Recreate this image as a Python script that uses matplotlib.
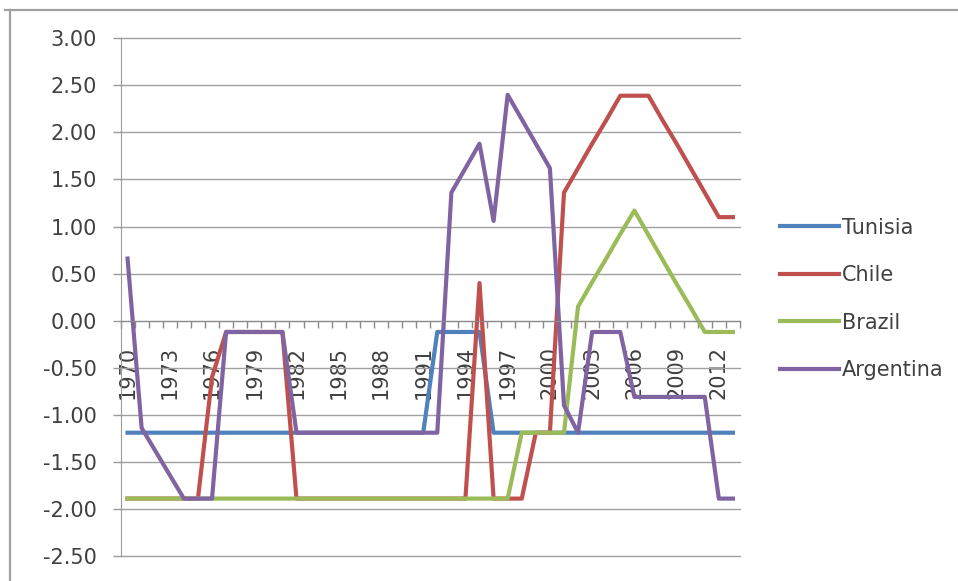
import matplotlib
matplotlib.use("Agg")
import matplotlib.pyplot as plt
from matplotlib.lines import Line2D
import numpy as np

years = list(range(1970, 2014))

tunisia = [-1.19] * 22 + [-0.12] * 4 + [-1.19] * 18

chile = ([-1.89] * 6 + [-0.60] + [-0.12] * 5 + [-1.89] * 13 + [0.40]
         + [-1.89] * 3 + [-1.19, -1.19, 1.36, 1.62, 1.88, 2.13, 2.39, 2.39, 2.39,
                          2.13, 1.88, 1.62, 1.36, 1.10, 1.10])

brazil = ([-1.89] * 28 + [-1.19] * 4
          + [0.15, 0.41, 0.66, 0.92, 1.17, 0.91, 0.65, 0.39, 0.14, -0.12, -0.12, -0.12])

argentina = ([0.66, -1.14, -1.39, -1.64, -1.89, -1.89, -1.89]
             + [-0.12] * 5 + [-1.19] * 11
             + [1.36, 1.62, 1.88, 1.06, 2.40, 2.14, 1.88, 1.62, -0.90, -1.19,
                -0.12, -0.12, -0.12, -0.81, -0.81, -0.81, -0.81, -0.81, -0.81,
                -1.89, -1.89])

series = [("Tunisia", tunisia, "#4F81BD"),
          ("Chile", chile, "#C0504D"),
          ("Brazil", brazil, "#9BBB59"),
          ("Argentina", argentina, "#8064A2")]

y_ticks = [3.0, 2.5, 2.0, 1.5, 1.0, 0.5, 0.0, -0.5, -1.0, -1.5, -2.0, -2.5]
label_years = years[::3]

plt.rcParams["font.family"] = ["DejaVu Sans"]
text_color = "#404040"

fig = plt.figure(figsize=(9.58, 5.81), dpi=100)
ax = fig.add_axes([0.1258, 0.0430, 0.7724 - 0.1258, 0.9341 - 0.0430])

x = np.arange(len(years))
for name, vals, col in series:
    ax.plot(x, vals, color=col, lw=3.0, label=name, solid_joinstyle="round")

ax.set_xlim(-0.5, len(years) - 0.5)
ax.set_ylim(-2.5, 3.0)
ax.set_yticks(y_ticks)
ax.set_yticklabels([f"{v:.2f}" for v in y_ticks])
ax.yaxis.grid(True, color="#a0a0a0", lw=1.0)
for gl in ax.get_ygridlines():
    gl.set_clip_on(False)
ax.set_axisbelow(True)

for s in ("top", "right"):
    ax.spines[s].set_visible(False)
ax.spines["left"].set_color("#9a9a9a")
ax.spines["bottom"].set_position(("data", 0))
ax.spines["bottom"].set_color("#8a8a8a")

ax.set_xticks([years.index(y) for y in label_years])
ax.set_xticklabels([str(y) for y in label_years], rotation=90, va="top")
ax.set_xticks(np.arange(-0.5, len(years), 1.0), minor=True)
ax.tick_params(axis="x", which="major", length=0, pad=18, labelsize=15, labelcolor=text_color)
ax.tick_params(axis="x", which="minor", length=5, width=1, color="#8a8a8a", direction="out")
ax.tick_params(axis="y", length=6, width=1, color="#9a9a9a", pad=11, labelsize=15, labelcolor=text_color)

handles = [Line2D([], [], color=c, lw=3.0) for _, _, c in series]
leg = fig.legend(handles, [n for n, _, _ in series], loc="center left",
                 bbox_to_anchor=(772 / 958, 1 - 299 / 581), frameon=False,
                 fontsize=15, handlelength=2.8, handletextpad=0.15,
                 labelspacing=1.32, borderaxespad=0)
for t in leg.get_texts():
    t.set_color(text_color)

# chart area border
fig.add_artist(Line2D([5 / 958, 1.0], [1 - 9.5 / 581] * 2, transform=fig.transFigure,
                      color="#a0a0a0", lw=1.6))
fig.add_artist(Line2D([9.5 / 958] * 2, [0.0, 1 - 9.5 / 581], transform=fig.transFigure,
                      color="#a0a0a0", lw=1.6))

fig.savefig("out.png", dpi=100)
